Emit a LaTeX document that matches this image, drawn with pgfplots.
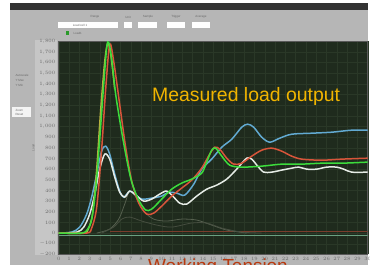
\documentclass[border=0pt]{standalone}
\usepackage{fontspec}
\setmainfont{Liberation Sans}
\usepackage{pgfplots}
\pgfplotsset{compat=1.18}
\definecolor{panel}{HTML}{B6B6B6}
\definecolor{strip}{HTML}{C6C6C6}
\definecolor{topbar}{HTML}{333333}
\definecolor{plotbg}{HTML}{1F2B1D}
\definecolor{gridc}{HTML}{2A3827}
\definecolor{cblue}{HTML}{62AAD2}
\definecolor{cwhite}{HTML}{E6ECE6}
\definecolor{cgreen}{HTML}{3CDC3C}
\definecolor{cred}{HTML}{D8553A}
\definecolor{cyellow}{HTML}{B8B040}
\definecolor{cgray}{HTML}{56604F}
\definecolor{cteal}{HTML}{6AA080}
\definecolor{cdred}{HTML}{7A3C2C}
\definecolor{ttext}{HTML}{F0B400}
\definecolor{wtext}{HTML}{B83A10}
\definecolor{uitext}{HTML}{6A6A6A}
\newcommand{\uitiny}{\fontsize{3}{3.5}\selectfont}
\begin{document}
\begin{tikzpicture}[x=1bp,y=1bp]
\useasboundingbox (0,0) rectangle (370,265);
\clip (0,0) rectangle (370,265);
\fill[white] (0,0) rectangle (370,265);
\fill[panel] (10,0) rectangle (368,255);
\fill[topbar] (10,255) rectangle (368,262);
\fill[strip] (35,10) rectangle (57,225);
% top widgets
\fill[white] (58,237) rectangle (118,243);
\fill[white] (124,237) rectangle (132,243);
\fill[white] (138,237) rectangle (157,243);
\fill[white] (167,237) rectangle (185,243);
\fill[white] (192,237) rectangle (210,243);
\node[font=\uitiny,text=uitext] at (95,248) {Range};
\node[font=\uitiny,text=uitext] at (128,248) {Unit};
\node[font=\uitiny,text=uitext] at (148,248) {Sample};
\node[font=\uitiny,text=uitext] at (176,248) {Trigger};
\node[font=\uitiny,text=uitext] at (201,248) {Average};
\node[font=\uitiny,text=uitext] at (80,240) {Load cell 1};
\fill[cgreen!70!black] (66,230) rectangle (69,234);
\node[font=\uitiny,text=uitext,anchor=west] at (70,232) {Load1};
\node[font=\uitiny,text=uitext,anchor=west] at (12,190) {Autoscale};
\node[font=\uitiny,text=uitext,anchor=west] at (12,185) {Y Max};
\node[font=\uitiny,text=uitext,anchor=west] at (12,180) {Y Min};
\fill[white!85!panel] (12,148) rectangle (31,158);
\node[font=\uitiny,text=uitext,anchor=west] at (12,155) {Zoom};
\node[font=\uitiny,text=uitext,anchor=west] at (12,151) {Reset};
\begin{axis}[
  at={(57,10)}, anchor=south west,
  scale only axis, width=309bp, height=213bp,
  xmin=0, xmax=30, ymin=-200, ymax=1800,
  xtick distance=1, ytick distance=100,
  axis background/.style={fill=plotbg},
  grid=major, grid style={gridc, line width=0.4pt},
  axis line style={draw=gray!70!black, line width=0.5pt},
  major tick length=0pt,
  tick label style={font=\uitiny, text=uitext},
  xticklabel style={yshift=1bp},
  ylabel={Load}, ylabel style={font=\uitiny, text=uitext, yshift=-2bp},
  every axis plot/.append style={smooth, tension=0.5, line width=1.5pt},
  clip=true,
]
\addplot[cteal, line width=1pt, sharp plot] coordinates {(0,-19) (30,-19)};
\addplot[cdred, line width=0.8pt, sharp plot] coordinates {(5,19) (30,19)};
\addplot[cgray, line width=0.8pt] coordinates {
(3.69,0) (4.95,37.5) (5.83,131) (6.41,272) (6.89,394) (7.48,337.5) (8.25,206)
(9.22,131) (10.49,112.5) (11.94,131) (13.40,122) (14.85,75) (16.31,28) (18.25,0)};
\addplot[cgray!80!black, line width=0.8pt] coordinates {
(4.17,0) (5.34,56) (6.12,131) (6.89,150) (8.06,112.5) (9.51,75) (10.97,56)
(12.91,94) (14.37,94) (15.83,47) (17.77,9) (19.71,0)};
\addplot[cblue] coordinates {
(0,0) (1.26,9) (2.04,56) (2.72,178) (3.20,337) (3.69,553) (4.17,769) (4.56,816)
(4.95,741) (5.44,553) (5.92,394) (6.31,337) (6.89,394) (7.38,366) (8.06,319)
(9.03,328) (10.0,347) (10.68,384) (11.46,375) (12.23,356) (13.11,459) (13.88,600)
(14.85,694) (15.83,806) (16.80,881) (17.77,994) (18.35,1022) (18.93,994) (19.71,900)
(20.49,853) (21.46,891) (22.62,928) (24.56,937.5) (26.50,947) (28.45,966) (30,966)};
\addplot[cwhite] coordinates {
(0,0) (1.75,9) (2.43,56) (3.01,178) (3.50,366) (3.98,600) (4.47,741) (4.95,694)
(5.44,525) (5.92,384) (6.41,337) (6.89,394) (7.48,356) (8.25,300) (9.03,319)
(9.81,366) (10.49,394) (11.17,337) (11.75,281) (12.43,272) (13.40,347) (14.37,412)
(15.34,450) (16.31,506) (17.28,600) (18.25,703) (18.74,694) (19.32,628) (19.90,572)
(20.68,572) (21.65,591) (22.62,609) (23.30,619) (24.08,600) (25.05,600) (26.02,619)
(26.99,619) (27.67,600) (28.45,572) (30,572)};
\addplot[cyellow] coordinates {
(0,0) (2.43,0) (2.91,47) (3.30,187.5) (3.69,600) (4.08,1162) (4.47,1612) (4.76,1781)
(5.05,1678) (5.44,1350)};
\addplot[cred] coordinates {
(0,0) (2.72,0) (3.20,47) (3.69,244) (4.17,787.5) (4.56,1350) (4.95,1772) (5.34,1612)
(5.92,1209) (6.50,806) (7.09,487.5) (7.77,281) (8.54,178) (9.22,187.5) (10.0,253)
(10.97,347) (11.94,422) (12.91,497) (13.88,609) (14.66,741) (15.15,806) (15.63,787.5)
(16.31,703) (16.99,647) (17.77,656) (18.74,722) (19.71,778) (20.68,797) (21.65,769)
(22.62,722) (23.59,694) (25.53,684) (27.48,694) (30,703)};
\addplot[cgreen] coordinates {
(0,0) (2.23,0) (2.82,37.5) (3.20,131) (3.59,412) (3.98,881) (4.37,1397) (4.66,1744)
(4.85,1791) (5.15,1631) (5.53,1303) (6.12,947) (6.60,694) (7.09,478) (7.77,309)
(8.45,216) (9.03,225) (10.0,319) (10.97,412) (11.94,469) (12.91,506) (13.88,562)
(14.37,666) (14.85,778) (15.24,797) (15.83,722) (16.60,637.5) (17.77,619) (19.71,628)
(21.65,647) (23.59,647) (25.53,656) (27.48,656) (30,666)};
\end{axis}
\node[anchor=base west, text=ttext, font=\fontsize{19.5}{22}\selectfont, inner sep=0pt] at (152,164) {Measured load output};
\node[anchor=base west, text=wtext, font=\fontsize{19}{22}\selectfont, inner sep=0pt] at (148,-7) {Working Tension};
\end{tikzpicture}
\end{document}
